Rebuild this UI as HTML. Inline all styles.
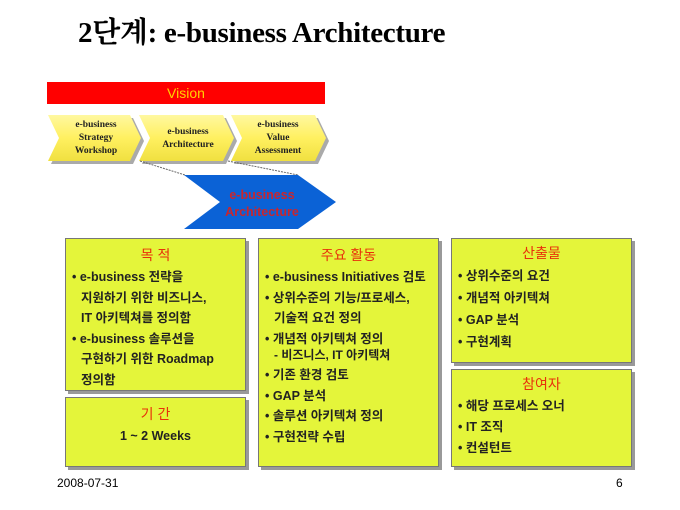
<!DOCTYPE html>
<html><head><meta charset="utf-8"><style>
body{margin:0;width:680px;height:510px;background:#fff;position:relative;overflow:hidden;font-family:"Liberation Sans","Noto Sans CJK KR",sans-serif}
.abs{position:absolute}
.box{position:absolute;background:#e4f53a;border:1px solid #777;box-shadow:3px 3px 0 #999;box-sizing:border-box;font-size:12.5px;font-weight:bold;color:#222}
.h{color:#e8300a;text-align:center;font-size:14px;font-weight:normal;margin-top:6px;margin-bottom:2px}
.box p{margin:0 0 0 6px;line-height:20.5px;white-space:nowrap}
.ind{padding-left:9px}
</style></head><body>
<div class="abs" style="left:78px;top:10px;font-family:'Liberation Serif','Noto Serif CJK SC',serif;font-weight:bold;font-size:29px;letter-spacing:-0.3px">2단계: e-business Architecture</div>
<div class="abs" style="left:47px;top:82px;width:278px;height:22px;background:#f00;color:#ffd200;text-align:center;font-size:14px;line-height:22px">Vision</div>
<svg class="abs" style="left:0;top:0" width="680" height="510">
<defs><linearGradient id="g" x1="0" y1="0" x2="0" y2="1"><stop offset="0" stop-color="#fff8a0"/><stop offset="0.5" stop-color="#fff060"/><stop offset="1" stop-color="#f0e040"/></linearGradient></defs>
<g fill="#aaa"><polygon points="51,118 133,118 144,141 133,164 51,164 62,141"/><polygon points="142,118 226,118 237,141 226,164 142,164 153,141"/><polygon points="234,118 318,118 329,141 318,164 234,164 245,141"/></g>
<g fill="url(#g)"><polygon points="48,115 130,115 141,138 130,161 48,161 59,138"/><polygon points="139,115 223,115 234,138 223,161 139,161 150,138"/><polygon points="231,115 315,115 326,138 315,161 231,161 242,138"/></g>
<g font-family="Liberation Serif,serif" font-weight="bold" font-size="9.5" text-anchor="middle" fill="#222">
<text x="96" y="127">e-business</text><text x="96" y="140">Strategy</text><text x="96" y="153">Workshop</text>
<text x="188" y="134">e-business</text><text x="188" y="147">Architecture</text>
<text x="278" y="127">e-business</text><text x="278" y="140">Value</text><text x="278" y="153">Assessment</text></g>
<line x1="140" y1="161" x2="185" y2="175" stroke="#666" stroke-dasharray="2,1"/>
<line x1="228" y1="161" x2="298" y2="175" stroke="#666" stroke-dasharray="2,1"/>
<polygon points="184,175 298,175 336,202 298,229 184,229 220,202" fill="#0b62d6"/>
<g font-weight="bold" font-size="12.5" text-anchor="middle" fill="#c8262e"><text x="262" y="199">e-business</text><text x="262" y="216">Architecture</text></g>
</svg>
<div class="box" style="left:65px;top:238px;width:181px;height:153px"><div class="h">목 적</div>
<p>• e-business 전략을</p><p class="ind">지원하기 위한 비즈니스,</p><p class="ind">IT 아키텍쳐를 정의함</p><p>• e-business 솔루션을</p><p class="ind">구현하기 위한 Roadmap</p><p class="ind">정의함</p></div>
<div class="box" style="left:65px;top:397px;width:181px;height:70px"><div class="h">기 간</div><p style="text-align:center;margin:0">1 ~ 2 Weeks</p></div>
<div class="box" style="left:258px;top:238px;width:181px;height:229px"><div class="h">주요 활동</div>
<p>• e-business Initiatives 검토</p><p>• 상위수준의 기능/프로세스,</p><p class="ind">기술적 요건 정의</p><p>• 개념적 아키텍쳐 정의</p><p class="ind" style="line-height:16px;margin-top:-2px;margin-bottom:2px;font-size:12px">- 비즈니스, IT 아키텍쳐</p><p>• 기존 환경 검토</p><p>• GAP 분석</p><p>• 솔루션 아키텍쳐 정의</p><p>• 구현전략 수립</p></div>
<div class="box" style="left:451px;top:238px;width:181px;height:125px"><div class="h" style="margin-top:4px">산출물</div>
<p style="line-height:22px">• 상위수준의 요건</p><p style="line-height:22px">• 개념적 아키텍쳐</p><p style="line-height:22px">• GAP 분석</p><p style="line-height:22px">• 구현계획</p></div>
<div class="box" style="left:451px;top:369px;width:181px;height:98px"><div class="h" style="margin-top:4px">참여자</div>
<p style="line-height:21px">• 해당 프로세스 오너</p><p style="line-height:21px">• IT 조직</p><p style="line-height:21px">• 컨설턴트</p></div>
<div class="abs" style="left:57px;top:476px;font-size:12px">2008-07-31</div>
<div class="abs" style="left:616px;top:476px;font-size:12px">6</div>
</body></html>
